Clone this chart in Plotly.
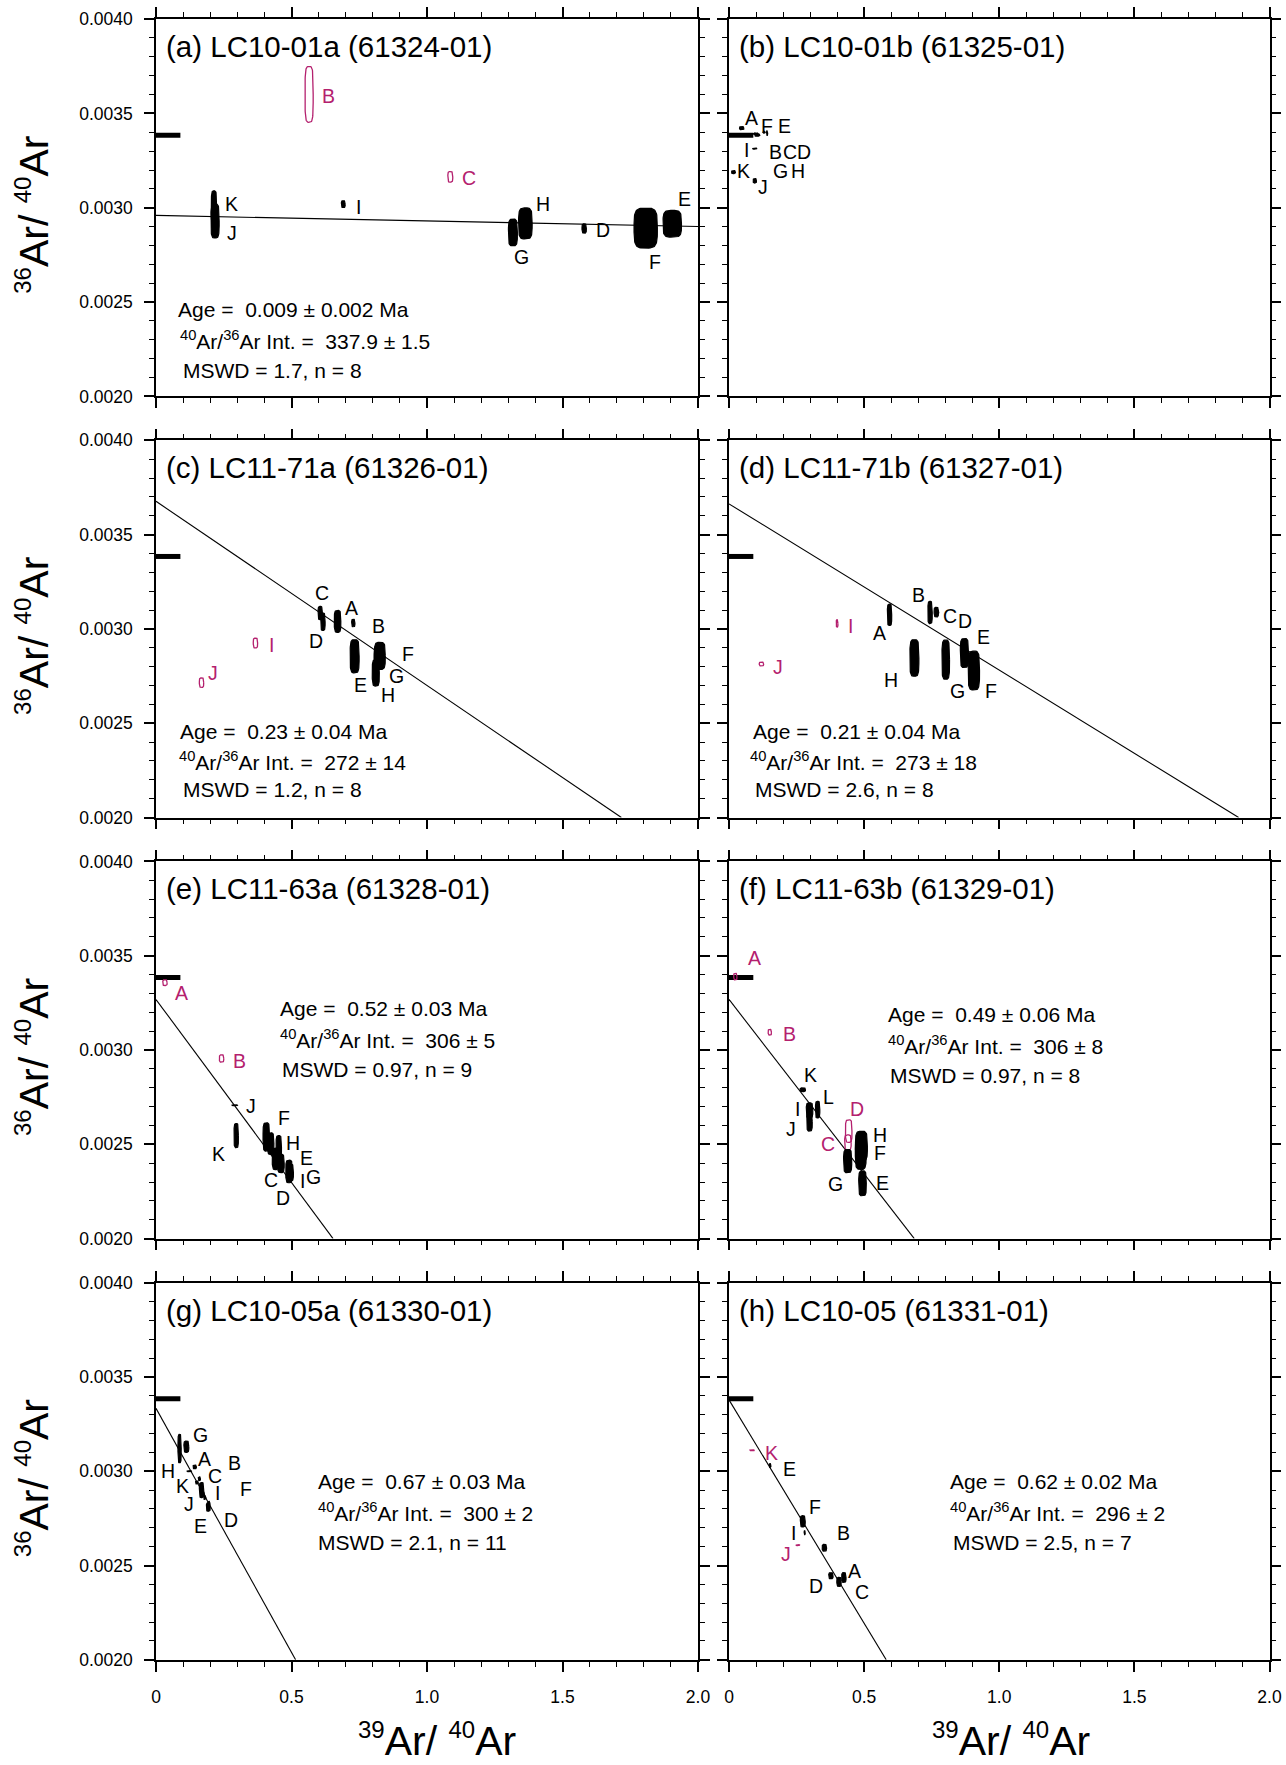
import numpy as np
import plotly.graph_objects as go

MAG = "#b4206e"
FONT = "Liberation Sans, Arial, Helvetica, sans-serif"
ATM = 1 / 295.5  # atmospheric 36Ar/40Ar

panel_titles = ["(a) LC10-01a (61324-01)", "(b) LC10-01b (61325-01)",
                "(c) LC11-71a (61326-01)", "(d) LC11-71b (61327-01)",
                "(e) LC11-63a (61328-01)", "(f) LC11-63b (61329-01)",
                "(g) LC10-05a (61330-01)", "(h) LC10-05 (61331-01)"]

# isochron regression: 40Ar/36Ar intercept and x-intercept (39Ar/40Ar)
int_4036 = [337.9, None, 272, 273, 306, 306, 300, 296]
x_intercept = [101.0, None, 3.766, 4.154, 1.684, 1.767, 1.288, 1.426]

age_txt = ["0.009 ± 0.002", None, "0.23 ± 0.04", "0.21 ± 0.04", "0.52 ± 0.03",
           "0.49 ± 0.06", "0.67 ± 0.03", "0.62 ± 0.02"]
int_txt = ["337.9 ± 1.5", None, "272 ± 14", "273 ± 18", "306 ± 5", "306 ± 8",
           "300 ± 2", "296 ± 2"]
mswd_txt = ["1.7", None, "1.2", "2.6", "0.97", "0.97", "2.1", "2.5"]
n_txt = ["8", None, "8", "8", "9", "8", "11", "7"]
stat_x = [[0.074, 0.082, 0.091], None, [0.082, 0.076, 0.091], [0.082, 0.072, 0.090],
          [0.449, 0.449, 0.456], [0.580, 0.580, 0.588], [0.589, 0.589, 0.589],
          [0.809, 0.809, 0.820]]
stat_y = [[0.002459, 0.00230, 0.002138], None, [0.002458, 0.00230, 0.002146],
          [0.002458, 0.00230, 0.002146], [0.003221, 0.003059, 0.002899],
          [0.003186, 0.003027, 0.002863], [0.002947, 0.002785, 0.002621],
          [0.002947, 0.002785, 0.002621]]

# step data per panel: label, x, y, x-err, y-err, included, label x, label y
a_step = ["B", "C", "D", "E", "F", "G", "H", "I", "J", "K"]
a_x = [0.565, 1.086, 1.580, 1.905, 1.807, 1.317, 1.363, 0.691, 0.218, 0.214]
a_y = [0.003601, 0.003164, 0.00289, 0.002915, 0.002892, 0.002869, 0.002917, 0.003019, 0.00293, 0.00299]
a_sx = [0.015, 0.009, 0.008, 0.034, 0.043, 0.0165, 0.025, 0.007, 0.015, 0.010]
a_sy = [0.000148, 0.000028, 0.0000247, 0.0000707, 0.000106, 0.0000707, 0.000082, 0.000018, 0.00009, 0.0001]
a_inc = [0, 0, 1, 1, 1, 1, 1, 1, 1, 1]
a_lx = [0.637, 1.156, 1.651, 1.951, 1.84, 1.35, 1.427, 0.749, 0.28, 0.277]
a_ly = [0.00359, 0.003157, 0.002883, 0.003048, 0.00271, 0.002738, 0.003019, 0.003004, 0.002866, 0.00302]

b_step = ["A", "B", "C", "D", "E", "F", "G", "H", "I", "J", "K"]
b_x = [0.047, 0.102, 0.105, 0.110, 0.141, 0.130, 0.100, 0.095, 0.096, 0.0956, 0.0166]
b_y = [0.003422, 0.003387, 0.00339, 0.003385, 0.003396, 0.0034, 0.00339, 0.003392, 0.003313, 0.003143, 0.003189]
b_sx = [0.008, 0.006, 0.004, 0.004, 0.002, 0.004, 0.004, 0.004, 0.008, 0.006, 0.007]
b_sy = [0.000008, 0.000008, 0.000005, 0.000005, 0.000012, 0.000005, 0.000005, 0.000005, 0.000003, 0.000012, 0.000008]
b_inc = [1, 1, 1, 1, 1, 1, 1, 1, 1, 1, 1]
b_lx = [0.082, 0.173, 0.224, 0.277, 0.205, 0.141, 0.19, 0.255, 0.065, 0.127, 0.054]
b_ly = [0.003475, 0.003293, 0.003293, 0.003293, 0.003435, 0.003435, 0.003196, 0.003196, 0.003304, 0.00311, 0.003196]

c_step = ["A", "B", "C", "D", "E", "F", "G", "H", "I", "J"]
c_x = [0.670, 0.728, 0.606, 0.616, 0.733, 0.826, 0.820, 0.811, 0.367, 0.168]
c_y = [0.003040, 0.003031, 0.003084, 0.003038, 0.002855, 0.002857, 0.002855, 0.002767, 0.002925, 0.002715]
c_sx = [0.012, 0.006, 0.008, 0.008, 0.0165, 0.020, 0.015, 0.013, 0.008, 0.008]
c_sy = [0.000058, 0.00002, 0.000035, 0.000046, 0.000088, 0.000072, 0.000053, 0.00007, 0.000026, 0.000025]
c_inc = [1, 1, 1, 1, 1, 1, 1, 1, 0, 0]
c_lx = [0.721, 0.82, 0.614, 0.589, 0.754, 0.93, 0.886, 0.856, 0.425, 0.211]
c_ly = [0.00311, 0.003013, 0.003189, 0.002934, 0.002705, 0.002867, 0.002752, 0.002652, 0.002916, 0.002767]

d_step = ["A", "B", "C", "D", "E", "F", "G", "H", "I", "J"]
d_x = [0.594, 0.744, 0.767, 0.772, 0.871, 0.906, 0.802, 0.686, 0.400, 0.120]
d_y = [0.003075, 0.003087, 0.003089, 0.00309, 0.002872, 0.002779, 0.002837, 0.002846, 0.003029, 0.002814]
d_sx = [0.008, 0.008, 0.008, 0.004, 0.015, 0.021, 0.014, 0.0166, 0.003, 0.008]
d_sy = [0.000057, 0.000059, 0.0000255, 0.00001, 0.0000767, 0.000103, 0.000104, 0.0000969, 0.0000194, 0.00001]
d_inc = [1, 1, 1, 1, 1, 1, 1, 1, 0, 0]
d_lx = [0.557, 0.702, 0.817, 0.875, 0.942, 0.968, 0.845, 0.601, 0.449, 0.18]
d_ly = [0.00298, 0.003181, 0.00307, 0.003043, 0.002955, 0.00267, 0.00267, 0.002731, 0.003018, 0.002798]

e_step = ["A", "B", "C", "D", "E", "F", "G", "H", "I", "J", "K"]
e_x = [0.033, 0.242, 0.423, 0.441, 0.461, 0.407, 0.491, 0.453, 0.497, 0.291, 0.296]
e_y = [0.003357, 0.002955, 0.002504, 0.002423, 0.002398, 0.002539, 0.002356, 0.002483, 0.00235, 0.002707, 0.002546]
e_sx = [0.008, 0.008, 0.012, 0.012, 0.012, 0.012, 0.012, 0.010, 0.010, 0.010, 0.008]
e_sy = [0.000015, 0.0000194, 0.000057, 0.000057, 0.0000485, 0.000075, 0.00006, 0.0000634, 0.000044, 0.000002, 0.0000643]
e_inc = [0, 0, 1, 1, 1, 1, 1, 1, 1, 1, 1]
e_lx = [0.095, 0.309, 0.423, 0.467, 0.556, 0.472, 0.581, 0.505, 0.54, 0.351, 0.23]
e_ly = [0.003304, 0.002944, 0.00231, 0.002217, 0.002428, 0.00264, 0.002326, 0.002507, 0.002305, 0.002701, 0.002451]

f_step = ["A", "B", "C", "D", "E", "F", "G", "H", "I", "J", "K", "L"]
f_x = [0.0235, 0.151, 0.440, 0.443, 0.494, 0.4875, 0.439, 0.490, 0.298, 0.298, 0.273, 0.328]
f_y = [0.003389, 0.003094, 0.00251, 0.00257, 0.002293, 0.002455, 0.002411, 0.00249, 0.00268, 0.00262, 0.002789, 0.002684]
f_sx = [0.006, 0.006, 0.012, 0.012, 0.014, 0.020, 0.015, 0.022, 0.012, 0.010, 0.010, 0.008]
f_sy = [0.0000176, 0.000015, 0.00004, 0.00006, 0.000066, 0.000088, 0.0000617, 0.0000793, 0.00004, 0.00005, 0.00001, 0.000044]
f_inc = [0, 0, 0, 0, 1, 1, 1, 1, 1, 1, 1, 1]
f_lx = [0.0956, 0.222, 0.367, 0.474, 0.568, 0.557, 0.393, 0.557, 0.255, 0.229, 0.30, 0.37]
f_ly = [0.003489, 0.003084, 0.0025, 0.002687, 0.002296, 0.002455, 0.00229, 0.002548, 0.002687, 0.002581, 0.002865, 0.002751]

g_step = ["A", "B", "C", "D", "E", "F", "G", "H", "I", "J", "K"]
g_x = [0.143, 0.112, 0.160, 0.195, 0.193, 0.175, 0.087, 0.123, 0.180, 0.168, 0.151]
g_y = [0.003023, 0.00313, 0.00296, 0.00283, 0.00281, 0.00288, 0.00312, 0.0030, 0.00286, 0.0029, 0.00294]
g_sx = [0.006, 0.009, 0.004, 0.004, 0.007, 0.004, 0.006, 0.008, 0.004, 0.008, 0.005]
g_sy = [0.00001, 0.00003, 0.00001, 0.00001, 0.000022, 0.00001, 0.000075, 0.000003, 0.00001, 0.00004, 0.000008]
g_inc = [1, 1, 1, 1, 1, 1, 1, 1, 1, 1, 1]
g_lx = [0.178, 0.291, 0.219, 0.277, 0.165, 0.333, 0.165, 0.044, 0.226, 0.12, 0.099]
g_ly = [0.003065, 0.003041, 0.002977, 0.002741, 0.002709, 0.002903, 0.003194, 0.0030, 0.002885, 0.002824, 0.002924]

h_step = ["A", "B", "C", "D", "E", "F", "I", "J", "K"]
h_x = [0.425, 0.353, 0.407, 0.377, 0.152, 0.273, 0.280, 0.255, 0.086]
h_y = [0.002436, 0.002594, 0.002413, 0.002446, 0.00303, 0.002734, 0.002674, 0.002608, 0.003111]
h_sx = [0.008, 0.008, 0.008, 0.008, 0.003, 0.009, 0.002, 0.008, 0.008]
h_sy = [0.000026, 0.000018, 0.000024, 0.000016, 0.00001, 0.00003, 0.00001, 0.000002, 0.000002]
h_inc = [1, 1, 1, 1, 1, 1, 1, 0, 0]
h_lx = [0.464, 0.422, 0.492, 0.321, 0.222, 0.317, 0.238, 0.211, 0.159]
h_ly = [0.002473, 0.002672, 0.002362, 0.002392, 0.003012, 0.00281, 0.002674, 0.002559, 0.003097]

panels = [
    (a_step, a_x, a_y, a_sx, a_sy, a_inc, a_lx, a_ly),
    (b_step, b_x, b_y, b_sx, b_sy, b_inc, b_lx, b_ly),
    (c_step, c_x, c_y, c_sx, c_sy, c_inc, c_lx, c_ly),
    (d_step, d_x, d_y, d_sx, d_sy, d_inc, d_lx, d_ly),
    (e_step, e_x, e_y, e_sx, e_sy, e_inc, e_lx, e_ly),
    (f_step, f_x, f_y, f_sx, f_sy, f_inc, f_lx, f_ly),
    (g_step, g_x, g_y, g_sx, g_sy, g_inc, g_lx, g_ly),
    (h_step, h_x, h_y, h_sx, h_sy, h_inc, h_lx, h_ly),
]

y_ticks = [0.0020, 0.0025, 0.0030, 0.0035, 0.0040]
x_ticks = [0, 0.5, 1.0, 1.5, 2.0]
x_ticktext = ["0", "0.5", "1.0", "1.5", "2.0"]

# ---------------- layout geometry ----------------
W, H = 1286, 1765
col_px = [(156.0, 698.0), (729.0, 1269.5)]
row_px = [(19.1, 396.4), (440.3, 817.5), (861.4, 1238.6), (1282.6, 1659.8)]

fig = go.Figure()
t = np.linspace(0, 2 * np.pi, 72)
ct = np.sign(np.cos(t)) * np.abs(np.cos(t)) ** 0.5
st = np.sign(np.sin(t)) * np.abs(np.sin(t)) ** 0.5

for i, (stp, xs, ys, sxs, sys_, inc, lxs, lys) in enumerate(panels):
    ax = "" if i == 0 else str(i + 1)
    xr, yr = "x" + ax, "y" + ax
    # atmospheric marker
    fig.add_trace(go.Scatter(x=[0, 0.09], y=[ATM, ATM], mode="lines",
                             line=dict(color="black", width=5), xaxis=xr, yaxis=yr,
                             showlegend=False, hoverinfo="skip"))
    # regression line
    if int_4036[i] is not None:
        y0 = 1.0 / int_4036[i]
        x0 = x_intercept[i]
        xend = min(2.0, x0 * (1 - 0.0020 / y0))
        lx = np.array([0.0, xend])
        fig.add_trace(go.Scatter(x=lx, y=y0 * (1 - lx / x0), mode="lines",
                                 line=dict(color="black", width=1.1), xaxis=xr, yaxis=yr,
                                 showlegend=False, hoverinfo="skip"))
    # error envelopes
    for flag in (0, 1):
        ex, ey = [], []
        for k in range(len(stp)):
            if inc[k] != flag:
                continue
            ex += list(xs[k] + sxs[k] * ct) + [None]
            ey += list(ys[k] + sys_[k] * st) + [None]
        if not ex:
            continue
        if flag:
            fig.add_trace(go.Scatter(x=ex, y=ey, mode="lines", fill="toself",
                                     fillcolor="black", line=dict(color="black", width=1.2),
                                     xaxis=xr, yaxis=yr, showlegend=False, hoverinfo="skip"))
        else:
            fig.add_trace(go.Scatter(x=ex, y=ey, mode="lines",
                                     line=dict(color=MAG, width=1.3),
                                     xaxis=xr, yaxis=yr, showlegend=False, hoverinfo="skip"))
    # step labels
    for k in range(len(stp)):
        fig.add_annotation(x=lxs[k], y=lys[k], xref=xr, yref=yr, text=stp[k],
                           showarrow=False, xanchor="center", yanchor="middle",
                           font=dict(size=19.5, color="black" if inc[k] else MAG, family=FONT))
    # panel title
    fig.add_annotation(x=0.0148, y=0.927, xref=xr + " domain", yref=yr + " domain",
                       text=panel_titles[i], showarrow=False, xanchor="left",
                       yanchor="middle", font=dict(size=29.5, color="black", family=FONT))
    # statistics
    if age_txt[i] is not None:
        lines = ["Age =  " + age_txt[i] + " Ma",
                 "<sup>40</sup>Ar/<sup>36</sup>Ar Int. =  " + int_txt[i],
                 "MSWD = " + mswd_txt[i] + ", n = " + n_txt[i]]
        for j in range(3):
            fig.add_annotation(x=stat_x[i][j], y=stat_y[i][j], xref=xr, yref=yr,
                               text=lines[j], showarrow=False, xanchor="left",
                               yanchor="middle", font=dict(size=21, color="black", family=FONT))

    r, c = i // 2, i % 2
    xd = [col_px[c][0] / W, col_px[c][1] / W]
    yd = [1 - row_px[r][1] / H, 1 - row_px[r][0] / H]
    axis_common = dict(showline=True, linecolor="black", linewidth=1.5, mirror="ticks",
                       ticks="outside", ticklen=10, tickwidth=1.5, tickcolor="black",
                       showgrid=False, zeroline=False, automargin=False,
                       tickfont=dict(size=17.5, color="black", family=FONT))
    fig.layout["xaxis" + ax] = dict(
        domain=xd, range=[0, 2], anchor=yr, tickmode="array", tickvals=x_ticks,
        ticktext=x_ticktext, showticklabels=(r == 3), ticklabelstandoff=10,
        minor=dict(dtick=0.1, ticklen=5, tickwidth=1.2, tickcolor="black", ticks="outside"),
        **axis_common)
    fig.layout["yaxis" + ax] = dict(
        domain=yd, range=[0.0020, 0.0040], anchor=xr, tickmode="array",
        tickvals=y_ticks, ticktext=["%.4f" % v for v in y_ticks],
        showticklabels=(c == 0), ticklabelstandoff=8,
        minor=dict(dtick=0.0001, ticklen=5, tickwidth=1.2, tickcolor="black", ticks="outside"),
        **axis_common)

# axis titles
SUP = "<sup><span style='font-size:24px'>%s</span></sup>"
ytitle = SUP % "36" + "Ar/ " + SUP % "40" + "Ar"
xtitle = SUP % "39" + "Ar/ " + SUP % "40" + "Ar"
for r in range(4):
    yc = 1 - ((row_px[r][0] + row_px[r][1]) / 2 + 7) / H
    fig.add_annotation(x=33 / W, y=yc, xref="paper", yref="paper",
                       text=ytitle, textangle=-90,
                       showarrow=False, xanchor="center", yanchor="middle",
                       font=dict(size=41, color="black", family=FONT))
for c, xc in enumerate([437, 1011]):
    fig.add_annotation(x=xc / W, y=1 - 1740 / H, xref="paper", yref="paper",
                       text=xtitle, showarrow=False,
                       xanchor="center", yanchor="middle",
                       font=dict(size=41, color="black", family=FONT))

fig.update_layout(width=W, height=H,
                  margin=dict(l=0, r=0, t=0, b=0, pad=0, autoexpand=False),
                  paper_bgcolor="white", plot_bgcolor="white",
                  font=dict(family=FONT, color="black"), showlegend=False)

fig.write_html(
    "out.html",
    config={"displayModeBar": False},
    post_script=("document.documentElement.style.margin='0px';"
                 "document.body.style.margin='0px';"
                 "document.body.style.overflow='hidden';"))
